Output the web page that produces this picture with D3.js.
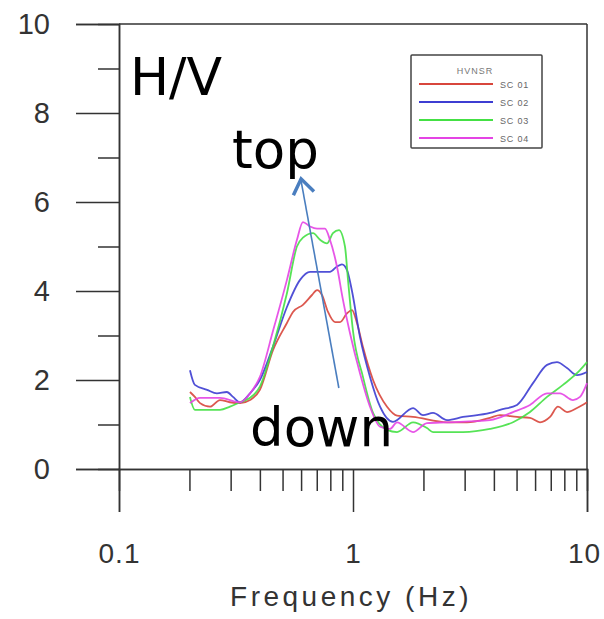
<!DOCTYPE html>
<html>
<head>
<meta charset="utf-8">
<script src="https://cdn.jsdelivr.net/npm/d3@7/dist/d3.min.js"></script>
<style>
  html, body { margin: 0; padding: 0; background: #fff; }
  svg { display: block; }
</style>
</head>
<body>
<svg id="chart" width="604" height="619"></svg>
<script>
// HVNSR spectral ratio curves, four stations
const sc01Freq = [0.201,0.211,0.222,0.245,0.270,0.298,0.329,0.363,0.400,0.455,0.522,0.554,0.611,0.668,0.702,0.737,0.782,0.838,0.880,0.943,0.990,1.040,1.103,1.218,1.398,1.542,1.805,2.522,3.071,3.850,4.249,5.022,5.707,6.297,6.950,7.517,8.213,9.065,10];
const sc01HV   = [1.73,1.62,1.48,1.40,1.55,1.50,1.48,1.55,1.78,2.67,3.28,3.53,3.69,3.91,4.02,3.91,3.53,3.30,3.30,3.50,3.57,3.28,2.74,2.00,1.40,1.20,1.17,1.05,1.05,1.15,1.21,1.17,1.15,1.05,1.17,1.40,1.28,1.37,1.50];

const sc02Freq = [0.201,0.211,0.238,0.262,0.289,0.307,0.329,0.363,0.400,0.455,0.522,0.594,0.655,0.723,0.797,0.854,0.897,0.943,0.990,1.071,1.182,1.305,1.482,1.805,1.991,2.198,2.522,2.952,3.850,4.249,5.022,5.878,6.748,7.443,8.213,9.065,10];
const sc02HV   = [2.22,1.89,1.78,1.70,1.73,1.62,1.50,1.70,2.00,2.75,3.64,4.25,4.43,4.43,4.43,4.55,4.60,4.47,4.00,2.97,2.07,1.40,1.06,1.37,1.21,1.26,1.10,1.17,1.26,1.33,1.44,1.93,2.34,2.40,2.27,2.11,2.18];

const sc03Freq = [0.201,0.211,0.222,0.270,0.298,0.329,0.363,0.400,0.455,0.522,0.576,0.611,0.675,0.723,0.774,0.821,0.871,0.924,0.952,1.0,1.103,1.218,1.398,1.542,1.805,2.071,2.198,2.952,3.850,4.830,5.707,6.748,7.896,9.335,10];
const sc03HV   = [1.62,1.33,1.33,1.33,1.40,1.50,1.60,1.85,2.75,3.95,5.00,5.20,5.30,5.15,5.07,5.30,5.37,5.00,4.25,3.10,2.07,1.26,0.88,0.83,1.05,0.92,0.83,0.83,0.90,1.05,1.28,1.62,1.89,2.22,2.40];

const sc04Freq = [0.201,0.222,0.270,0.329,0.363,0.400,0.455,0.522,0.576,0.611,0.655,0.702,0.759,0.797,0.854,0.906,0.971,1.071,1.182,1.305,1.439,1.542,1.805,2.071,2.522,3.850,4.830,5.707,6.748,7.664,8.714,9.335,10];
const sc04HV   = [1.48,1.60,1.60,1.50,1.70,2.07,3.10,4.25,5.15,5.55,5.45,5.40,5.40,5.15,4.55,3.80,3.05,2.15,1.40,0.95,0.90,1.05,0.83,1.03,1.05,1.10,1.28,1.44,1.70,1.70,1.55,1.62,1.93];

const seriesNames  = ["SC 01", "SC 02", "SC 03", "SC 04"];
const seriesColors = ["#d8463c", "#3d3dd2", "#44e044", "#e444e4"];

const yMajorTicks = [0, 2, 4, 6, 8, 10];
const yMinorTicks = [1, 3, 5, 7, 9];
const xMajorTicks = [0.1, 1, 10];
const xMinorTicks = [0.2,0.3,0.4,0.5,0.6,0.7,0.8,0.9,2,3,4,5,6,7,8,9];

// Arrow annotation, in data units (frequency, H/V)
const arrowFrom = [0.870, 1.82];
const arrowTo   = [0.600, 6.52];

const series = [
  { freq: sc01Freq, hv: sc01HV },
  { freq: sc02Freq, hv: sc02HV },
  { freq: sc03Freq, hv: sc03HV },
  { freq: sc04Freq, hv: sc04HV }
].map((s, i) => ({
  name: seriesNames[i],
  color: seriesColors[i],
  points: s.freq.map((f, j) => ({ f, v: s.hv[j] }))
}));

const svg = d3.select("#chart");
const plotLeft = 119, plotRight = 587, plotTop = 24, plotBottom = 469;

const x = d3.scaleLog().domain([0.1, 10]).range([plotLeft, plotRight]);
const y = d3.scaleLinear().domain([0, 10]).range([plotBottom, plotTop]);

const axisColor = "#333";
const tickFont = "'Liberation Sans', Arial, sans-serif";

// frame (top and right edges)
svg.append("line").attr("x1", plotLeft).attr("x2", plotRight).attr("y1", plotTop).attr("y2", plotTop)
  .attr("stroke", axisColor).attr("stroke-width", 1.5);
svg.append("line").attr("x1", plotRight).attr("x2", plotRight).attr("y1", plotTop).attr("y2", plotBottom)
  .attr("stroke", axisColor).attr("stroke-width", 1.5);

// y axis
const yMajor = svg.append("g").attr("transform", `translate(${plotLeft},0)`)
  .call(d3.axisLeft(y).tickValues(yMajorTicks).tickSize(43).tickPadding(26).tickFormat(d3.format("d")));
const yMinor = svg.append("g").attr("transform", `translate(${plotLeft},0)`)
  .call(d3.axisLeft(y).tickValues(yMinorTicks).tickSize(21).tickFormat(""));

// x axis
const xMajor = svg.append("g").attr("transform", `translate(0,${plotBottom})`)
  .call(d3.axisBottom(x).tickValues(xMajorTicks).tickSize(43).tickPadding(31).tickFormat(d => d < 1 ? "0.1" : String(d)));
const xMinor = svg.append("g").attr("transform", `translate(0,${plotBottom})`)
  .call(d3.axisBottom(x).tickValues(xMinorTicks).tickSize(22).tickFormat(""));

[yMajor, yMinor, xMajor, xMinor].forEach(g => {
  g.select(".domain").attr("stroke", axisColor).attr("stroke-width", 1.5);
  g.selectAll(".tick line").attr("stroke", axisColor).attr("stroke-width", 1.5);
  g.selectAll(".tick text").attr("fill", "#333").style("font-family", tickFont).style("font-size", "29px");
});
// keep the right-most label inside the page
xMajor.selectAll(".tick text").style("font-size", "28px").style("letter-spacing", "1px")
  .attr("dx", d => d === 10 ? -3 : 0);

// x axis title
svg.append("text").attr("x", (plotLeft + plotRight) / 2 - 2).attr("y", 606)
  .attr("text-anchor", "middle").attr("fill", "#333")
  .style("font-family", tickFont).style("font-size", "28px").style("letter-spacing", "3.5px")
  .text("Frequency (Hz)");

// curves
const line = d3.line().x(d => x(d.f)).y(d => y(d.v)).curve(d3.curveMonotoneX);
svg.append("g").selectAll("path").data(series).join("path")
  .attr("d", d => line(d.points))
  .attr("fill", "none")
  .attr("stroke", d => d.color)
  .attr("stroke-width", 1.8)
  .attr("stroke-opacity", 0.9);

// legend
const lg = svg.append("g").attr("transform", "translate(411,55)");
lg.append("rect").attr("width", 131).attr("height", 93)
  .attr("fill", "#fff").attr("stroke", "#444").attr("stroke-width", 1.5).attr("rx", 1);
lg.append("text").attr("x", 64).attr("y", 19).attr("text-anchor", "middle")
  .attr("fill", "#777").style("font-family", tickFont).style("font-size", "9px")
  .style("letter-spacing", "1px").text("HVNSR");
const items = lg.selectAll("g.item").data(series).join("g").attr("class", "item")
  .attr("transform", (d, i) => `translate(0,${29 + i * 18})`);
items.append("line").attr("x1", 8).attr("x2", 82).attr("y1", 0).attr("y2", 0)
  .attr("stroke", d => d.color).attr("stroke-width", 2);
items.append("text").attr("x", 89).attr("y", 3.5)
  .attr("fill", "#666").style("font-family", tickFont).style("font-size", "9px")
  .style("letter-spacing", "0.8px").text(d => d.name);

// annotations
const annFont = "'DejaVu Sans', sans-serif";
svg.append("text").attr("x", 130).attr("y", 95).attr("fill", "#000")
  .style("font-family", annFont).style("font-size", "52px").text("H/V");
svg.append("text").attr("x", 232).attr("y", 168).attr("fill", "#000")
  .style("font-family", annFont).style("font-size", "53px").text("top");
svg.append("text").attr("x", 250).attr("y", 446).attr("fill", "#000")
  .style("font-family", annFont).style("font-size", "53px").text("down");

const ax1 = x(arrowFrom[0]), ay1 = y(arrowFrom[1]);
const ax2 = x(arrowTo[0]), ay2 = y(arrowTo[1]);
const arrowColor = "#4a7ebf";
svg.append("line").attr("x1", ax1).attr("y1", ay1).attr("x2", ax2).attr("y2", ay2 + 2)
  .attr("stroke", arrowColor).attr("stroke-width", 1.6);
// open chevron head
const ang = Math.atan2(ay1 - ay2, ax1 - ax2);
const headLen = 18, spread = 0.62;
const hp = [
  [ax2 + headLen * Math.cos(ang - spread), ay2 + headLen * Math.sin(ang - spread)],
  [ax2, ay2],
  [ax2 + headLen * Math.cos(ang + spread), ay2 + headLen * Math.sin(ang + spread)]
];
svg.append("path").attr("d", d3.line()(hp)).attr("fill", "none")
  .attr("stroke", arrowColor).attr("stroke-width", 3.5).attr("stroke-linejoin", "miter");
</script>
</body>
</html>
